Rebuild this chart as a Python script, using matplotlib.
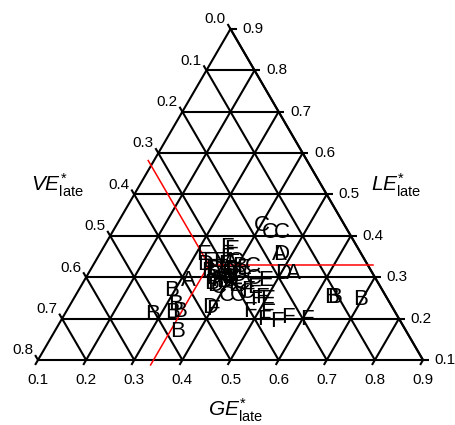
import matplotlib.pyplot as plt
import numpy as np

plt.rcParams['font.family'] = ['Liberation Sans', 'DejaVu Sans']
plt.rcParams['mathtext.fontset'] = 'custom'
plt.rcParams['mathtext.rm'] = 'Liberation Sans'
plt.rcParams['mathtext.it'] = 'Liberation Sans:italic'

# axis tick values
ge_ticks = [0.1, 0.2, 0.3, 0.4, 0.5, 0.6, 0.7, 0.8, 0.9]
le_ticks = [0.1, 0.2, 0.3, 0.4, 0.5, 0.6, 0.7, 0.8, 0.9]
ve_ticks = [0.0, 0.1, 0.2, 0.3, 0.4, 0.5, 0.6, 0.7, 0.8]

# reference point (red lines)
ref_ge = 0.34
ref_le = 0.33

# group letters with their GE*/LE* shares (VE* = 1 - GE* - LE*)
labels = ['C', 'C', 'C', 'A', 'D', 'D', 'A', 'C', 'E', 'B', 'B', 'B',
          'F', 'F', 'F', 'F', 'F', 'F', 'F', 'E', 'C', 'C', 'C', 'F',
          'D', 'A', 'E', 'F', 'E', 'B', 'B', 'B', 'B', 'B', 'B',
          'D', 'E', 'B', 'D', 'E', 'F', 'A', 'B', 'C', 'D', 'E', 'F',
          'B', 'D', 'E', 'C', 'F', 'E', 'D', 'A', 'C', 'F', 'B', 'F',
          'A', 'D', 'B', 'E', 'C', 'F', 'D', 'B']
ge = [0.402, 0.429, 0.454, 0.473, 0.478, 0.504, 0.526, 0.432, 0.476, 0.636, 0.640, 0.696,
      0.611, 0.568, 0.550, 0.522, 0.518, 0.482, 0.490, 0.504, 0.415, 0.436, 0.453, 0.404,
      0.394, 0.316, 0.316, 0.358, 0.370, 0.294, 0.319, 0.337, 0.323, 0.283, 0.355,
      0.332, 0.339, 0.347, 0.359, 0.360, 0.374, 0.381, 0.394, 0.393, 0.414, 0.417, 0.378,
      0.392, 0.403, 0.421, 0.432, 0.452, 0.464, 0.378, 0.378, 0.450, 0.483, 0.368, 0.370,
      0.386, 0.398, 0.405, 0.410, 0.388, 0.396, 0.365, 0.352]
le = [0.426, 0.407, 0.407, 0.356, 0.354, 0.310, 0.308, 0.327, 0.293, 0.250, 0.252, 0.247,
      0.197, 0.202, 0.194, 0.197, 0.216, 0.218, 0.250, 0.245, 0.257, 0.257, 0.262, 0.221,
      0.226, 0.293, 0.354, 0.371, 0.366, 0.269, 0.233, 0.216, 0.214, 0.209, 0.168,
      0.330, 0.337, 0.313, 0.318, 0.337, 0.330, 0.337, 0.318, 0.337, 0.305, 0.322, 0.293,
      0.289, 0.293, 0.281, 0.284, 0.269, 0.274, 0.281, 0.305, 0.298, 0.245, 0.286, 0.347,
      0.310, 0.300, 0.326, 0.296, 0.276, 0.314, 0.298, 0.322]


def tern(g, l):
    g = np.asarray(g, dtype=float)
    l = np.asarray(l, dtype=float)
    return g + 0.5 * l - 0.05, l


fig = plt.figure(figsize=(4.55, 4.25), dpi=100)
ax = fig.add_axes([0, 0, 1, 1])
ax.set_xlim(0.02104, 0.9665)
ax.set_ylim(-0.0571, 0.970)
ax.axis('off')

tk = 0.012
lw = 1.5

# constant LE lines (horizontal), with tick on the right
for l in le_ticks[:-1]:
    x, y = tern([0.1, 1 - l + tk], [l, l])
    ax.plot(x, y, color='k', lw=lw, solid_capstyle='butt')
x, y = tern([0.1, 0.1 + tk], [0.9, 0.9])
ax.plot(x, y, color='k', lw=lw)

# constant GE lines, with tick below the bottom
for g in ge_ticks:
    x, y = tern([g, g], [0.1 - tk, 1 - g])
    ax.plot(x, y, color='k', lw=lw, solid_capstyle='butt')

# constant VE lines, with tick on the left
for v in ve_ticks:
    x, y = tern([0.1 - tk, 0.9 - v], [0.9 - v + tk, 0.1])
    ax.plot(x, y, color='k', lw=lw, solid_capstyle='butt')

# right edge
x, y = tern([0.1, 0.9], [0.9, 0.1])
ax.plot(x, y, color='k', lw=lw)

# red reference lines
red = '#ff0000'
x, y = tern([ref_ge, ref_ge], [ref_le, 0.1 - tk])
ax.plot(x, y, color=red, lw=1.1)
x, y = tern([ref_ge, 1 - ref_le + tk], [ref_le, ref_le])
ax.plot(x, y, color=red, lw=1.1)
s = ref_ge + ref_le
x, y = tern([ref_ge, 0.1 - tk], [ref_le, s - 0.1 + tk])
ax.plot(x, y, color=red, lw=1.1)

# tick labels
for g in ge_ticks:
    x, y = tern(g, 0.1)
    ax.annotate(f'{g:.1f}', (x, y), xytext=(0, -14.5), textcoords='offset points',
                ha='center', va='center', fontsize=11)
for l in le_ticks:
    x, y = tern(1 - l, l)
    ax.annotate(f'{l:.1f}', (x, y), xytext=(8.5, 0), textcoords='offset points',
                ha='left', va='center', fontsize=11)
for v in ve_ticks:
    x, y = tern(0.1, 0.9 - v)
    ax.annotate(f'{v:.1f}', (x, y), xytext=(-3.5, 7), textcoords='offset points',
                ha='right', va='center', fontsize=11)

# group letters
px, py = tern(ge, le)
for lab, xx, yy in zip(labels, px, py):
    ax.text(xx, yy, lab, ha='center', va='center', fontsize=16, zorder=5)

# axis titles
fig.text(57 / 455, 1 - 185 / 425, r'$\mathit{VE}^{*}_{\mathrm{late}}$',
         ha='center', va='center', fontsize=15)
fig.text(396 / 455, 1 - 185 / 425, r'$\mathit{LE}^{*}_{\mathrm{late}}$',
         ha='center', va='center', fontsize=15)
fig.text(236 / 455, 1 - 410 / 425, r'$\mathit{GE}^{*}_{\mathrm{late}}$',
         ha='center', va='center', fontsize=15)

plt.savefig('out.png', dpi=100)
